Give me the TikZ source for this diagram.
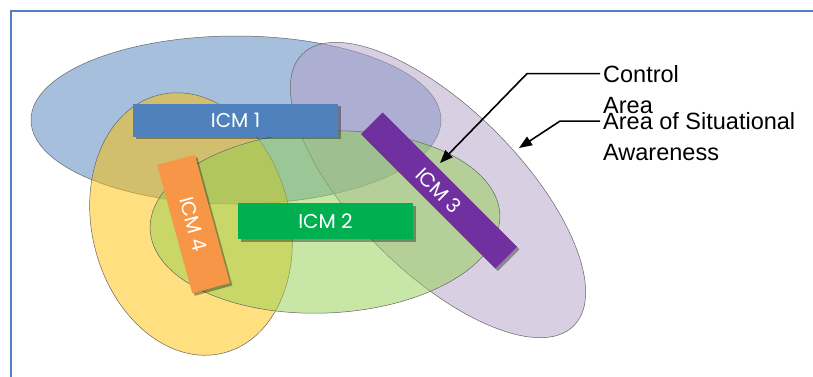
\documentclass[tikz,border=0pt]{standalone}
\usepackage{fontspec}
\setmainfont{Liberation Sans}
\newfontfamily\icmfont{Poppins}
\usetikzlibrary{shadows,arrows.meta}
\definecolor{borderblue}{HTML}{5081C4}
\definecolor{icmblue}{HTML}{4F81BD}
\definecolor{icmgreen}{HTML}{00B050}
\definecolor{icmpurple}{HTML}{7030A0}
\definecolor{icmorange}{HTML}{F79646}
\definecolor{zblue}{HTML}{4F81BD}
\definecolor{zyellow}{HTML}{FFC000}
\definecolor{zgreen}{HTML}{92D050}
\definecolor{zlilac}{HTML}{B2A1C7}
\begin{document}
\begin{tikzpicture}[x=1pt,y=-1pt,
  zone/.style={draw=black!60, line width=0.5pt, fill opacity=0.5},
  icm/.style 2 args={draw=none, text=white, font=\icmfont\fontsize{20}{24}\selectfont,
    inner sep=0pt, minimum width=#1, minimum height=#2,
    drop shadow={shadow xshift=2.5pt, shadow yshift=-2.5pt, opacity=0.35, fill=black}},
  lbl/.style={font=\fontsize{23.5}{28}\selectfont, inner xsep=3pt, inner ysep=0pt, anchor=base west},
  callout/.style={line width=1.6pt, -{Triangle[length=13pt,width=10pt]}}
]
\useasboundingbox (0,0) rectangle (813,376);
\fill[white] (0,0) rectangle (813,376);
\draw[borderblue, line width=2pt] (11,377) -- (11,10.8) -- (814,10.8);

% zones
\path[zone, fill=zblue] (236,120) ellipse [x radius=205, y radius=84];
\path[zone, fill=zlilac, shift={(438,190)}, rotate=-45] (0,0) ellipse [x radius=192, y radius=82];
\path[zone, fill=zyellow, shift={(191,224)}, rotate=14] (0,0) ellipse [x radius=99, y radius=133];
\path[zone, fill=zgreen, shift={(325,222)}, rotate=2.5] (0,0) ellipse [x radius=175, y radius=91];

% ICM boxes
\node[icm={205}{33}, fill=icmblue] (icm1) at (235.5,120) {ICM 1};
\node[icm={175}{36}, fill=icmgreen] (icm2) at (325.5,221) {ICM 2};
\node[icm={190}{30.5}, fill=icmpurple, rotate=-45] (icm3) at (439,190.5) {ICM 3};
\node[icm={133}{39}, fill=icmorange, rotate=-74.7] (icm4) at (193.5,224) {ICM 4};

% labels
\node[lbl] (ctrl) at (600,82) {Control};
\node[lbl] (ctrlb) at (600,113) {Area};
\node[lbl] (sit) at (600,129.5) {Area of Situational};
\node[lbl] (sitb) at (600,160.5) {Awareness};
\coordinate (ctip) at (440,163);
\coordinate (stip) at (519,148);
\draw[callout] (ctrl.west) -- ++(-73,0) -- (ctip);
\draw[callout] (sit.west) -- ++(-40,0) -- (stip);
\end{tikzpicture}
\end{document}
